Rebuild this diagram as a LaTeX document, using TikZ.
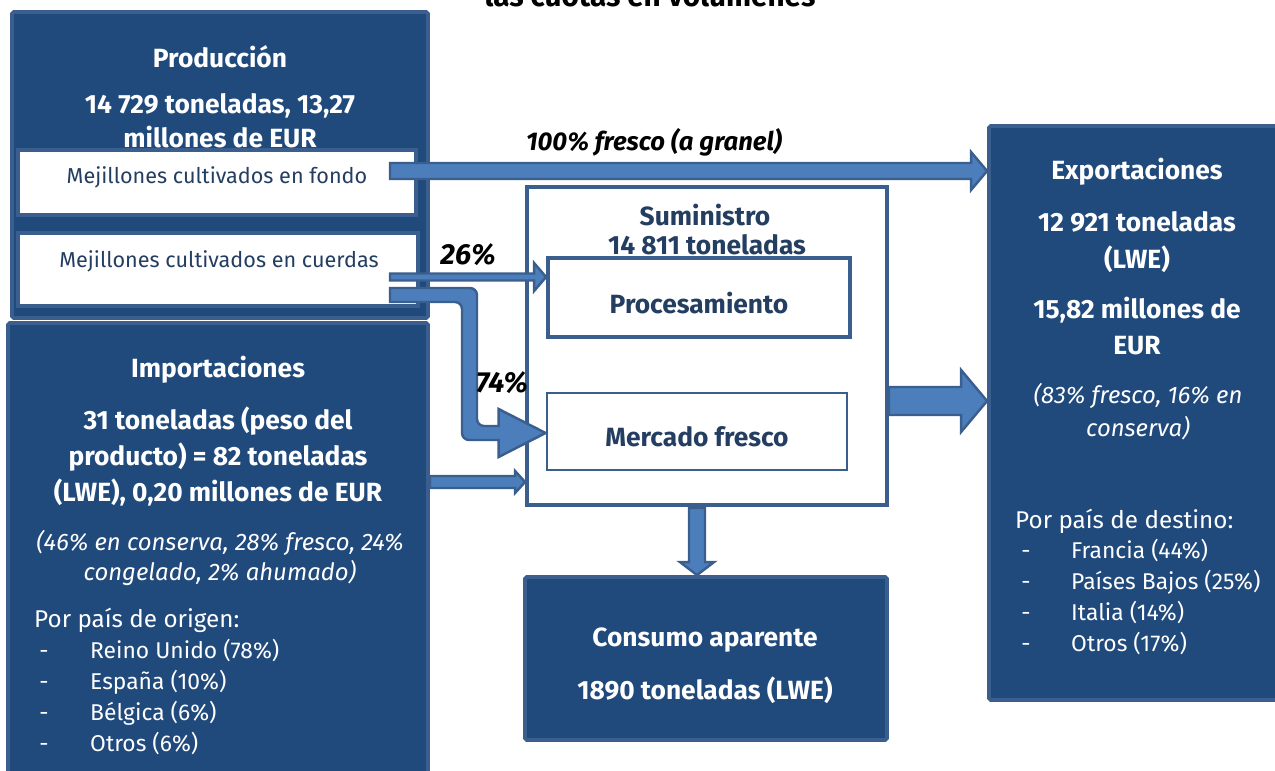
\documentclass[tikz,border=0pt]{standalone}
\usepackage{fontspec}
\setmainfont{Fira Sans}
\usetikzlibrary{calc,fit}

\definecolor{ecnavy}{RGB}{32,73,124}
\definecolor{ecedge}{RGB}{58,95,143}
\definecolor{ecarrow}{RGB}{76,126,187}
\definecolor{ectext}{RGB}{36,62,98}

\tikzset{
  darkbox/.style={draw=ecedge, fill=ecnavy, line width=2.2pt, inner sep=0pt, rounded corners=1pt},
  whitebox/.style={draw=ecedge, fill=white, line width=2.2pt, inner sep=0pt},
  flow/.style={draw=ecedge, fill=ecarrow, line width=1.4pt, line join=miter},
  head/.style={text=white, font=\bfseries\fontsize{15}{17}\selectfont},
  plain/.style={text=white, font=\fontsize{13}{15}\selectfont},
  lead/.style={text=white, font=\fontsize{13.8}{16}\selectfont},
  note/.style={text=white, font=\itshape\fontsize{13.6}{16}\selectfont},
  inner/.style={text=ectext, font=\bfseries\fontsize{15}{17}\selectfont},
  share/.style={font=\bfseries\itshape\fontsize{14.6}{17}\selectfont},
}

% horizontal block arrow: from, to, half shaft, half head, head length
\newcommand{\blockarrow}[5]{%
  \draw[flow] ($(#1)+(0,#3)$) -- ($(#2)+(-#5,#3)$) -- ($(#2)+(-#5,#4)$) -- (#2)
    -- ($(#2)+(-#5,-#4)$) -- ($(#2)+(-#5,-#3)$) -- ($(#1)+(0,-#3)$) -- cycle;}

\begin{document}
\begin{tikzpicture}[x=0.02cm, y=-0.02cm]
\useasboundingbox (0,0) rectangle (1275,771);

% title, cut by the page edge
\node[font=\bfseries\fontsize{16.9}{19}\selectfont, anchor=base] (title) at (650,6) {las cuotas en volúmenes};

% boxes
\node[darkbox, fit={(12,12) (428,318)}] (prod) {};
\node[whitebox, fit={(18,150) (416,215)}] (fondo) {};
\node[whitebox, fit={(18,233) (418,306)}] (cuerdas) {};
\node[darkbox, fit={(8,323) (428,790)}] (imp) {};
\node[whitebox, fit={(527,187) (887,505)}] (sum) {};
\node[whitebox, fit={(548,258) (850,337)}] (proc) {};
\node[whitebox, line width=1.6pt, fit={(547,393) (847,470)}] (fresco) {};
\node[darkbox, fit={(989,126) (1290,700)}] (exp) {};
\node[darkbox, fit={(525,577) (887,740)}] (cons) {};

% arrows
\coordinate (topfrom) at (390,171);
\coordinate (topto) at (exp.west |- topfrom);
\blockarrow{topfrom}{topto}{8}{19}{16}

\coordinate (procfrom) at (390,277);
\coordinate (procto) at (proc.west |- procfrom);
\blockarrow{procfrom}{procto}{3.5}{14}{12}

\coordinate (expfrom) at (sum.east |- 0,401);
\coordinate (expto) at (exp.west |- expfrom);
\blockarrow{expfrom}{expto}{14}{31}{26}

\coordinate (impfrom) at (imp.east |- 0,482);
\coordinate (impto) at (sum.west |- impfrom);
\blockarrow{impfrom}{impto}{6}{11}{10}

\coordinate (lstart) at (390,295);
\coordinate (lbend) at (469,433);
\coordinate (lcorner) at (lstart -| lbend);
\coordinate (lto) at (fresco.west |- lbend);
\draw[flow, rounded corners=4pt] ($(lstart)+(0,-7)$) -- ($(lcorner)+(8,-7)$) -- ($(lbend)+(8,-7)$)
  [sharp corners] -- ($(lto)+(-47,-7)$) -- ($(lto)+(-47,-24)$) -- (lto) -- ($(lto)+(-47,24)$)
  -- ($(lto)+(-47,7)$) [rounded corners=4pt] -- ($(lbend)+(-7,7)$) -- ($(lcorner)+(-7,7)$)
  [sharp corners] -- ($(lstart)+(0,7)$) -- cycle;

\coordinate (downfrom) at (697,508);
\coordinate (downto) at (downfrom |- cons.north);
\draw[flow] ($(downfrom)+(-8,0)$) -- ($(downto)+(-8,-13)$) -- ($(downto)+(-17,-13)$) -- (downto)
  -- ($(downto)+(17,-13)$) -- ($(downto)+(8,-13)$) -- ($(downfrom)+(8,0)$) -- cycle;

% arrow labels
\node[share] (granel) at (654,142) {100\% fresco (a granel)};
\node[share, font=\bfseries\itshape\fontsize{16.5}{18}\selectfont] (share26) at (468,255) {26\%};
\node[share, font=\bfseries\itshape\fontsize{16.5}{18}\selectfont] (share74) at (502,383) {74\%};

% production
\node[head] (prodtitle) at (220,57) {Producción};
\node[head] (prodval1) at (220,106) {14 729 toneladas, 13,27};
\node[head] (prodval2) at (220,137) {millones de EUR};
\node[plain, font=\fontsize{12.3}{14}\selectfont, text=ectext] (fondotxt) at (217,177) {Mejillones cultivados en fondo};
\node[plain, font=\fontsize{12.3}{14}\selectfont, text=ectext] (cuerdastxt) at (219,261) {Mejillones cultivados en cuerdas};

% imports
\node[head] (imptitle) at (218,370) {Importaciones};
\node[head] (impval1) at (218,421) {31 toneladas (peso del};
\node[head] (impval2) at (218,457) {producto) = 82 toneladas};
\node[head] (impval3) at (218,493) {(LWE), 0,20 millones de EUR};
\node[note] (impnote1) at (220,543) {(46\% en conserva, 28\% fresco, 24\%};
\node[note] (impnote2) at (220,573) {congelado, 2\% ahumado)};
\node[lead, anchor=west] (origin) at (28,620) {Por país de origen:};
\foreach \txt [count=\i] in {Reino Unido (78\%), España (10\%), Bélgica (6\%), Otros (6\%)} {
  \node[plain, anchor=base] (origdash\i) at (44,{627+31*\i}) {-};
  \node[plain, anchor=base west] (orig\i) at (84,{627+31*\i}) {\txt};
}

% supply
\node[inner] (sumtitle) at (705,215) {Suministro};
\node[inner] (sumval) at (707,245) {14 811 toneladas};
\node[inner] (proctxt) at (699,303) {Procesamiento};
\node[inner] (frescotxt) at (697,437) {Mercado fresco};

% exports
\node[head] (exptitle) at (1137,172) {Exportaciones};
\node[head] (expval1) at (1137,222) {12 921 toneladas};
\node[head] (expval2) at (1137,259) {(LWE)};
\node[head] (expval3) at (1137,310) {15,82 millones de};
\node[head] (expval4) at (1137,346) {EUR};
\node[note] (expnote1) at (1138,396) {(83\% fresco, 16\% en};
\node[note] (expnote2) at (1138,428) {conserva)};
\node[lead, anchor=west] (dest) at (1009,521) {Por país de destino:};
\foreach \txt [count=\i] in {Francia (44\%), Países Bajos (25\%), Italia (14\%), Otros (17\%)} {
  \node[plain, anchor=base] (destdash\i) at (1026,{527+31*\i}) {-};
  \node[plain, anchor=base west] (dest\i) at (1065,{527+31*\i}) {\txt};
}

% consumption
\node[head] (constitle) at (705,640) {Consumo aparente};
\node[head] (consval) at (705,690) {1890 toneladas (LWE)};
\end{tikzpicture}
\end{document}
